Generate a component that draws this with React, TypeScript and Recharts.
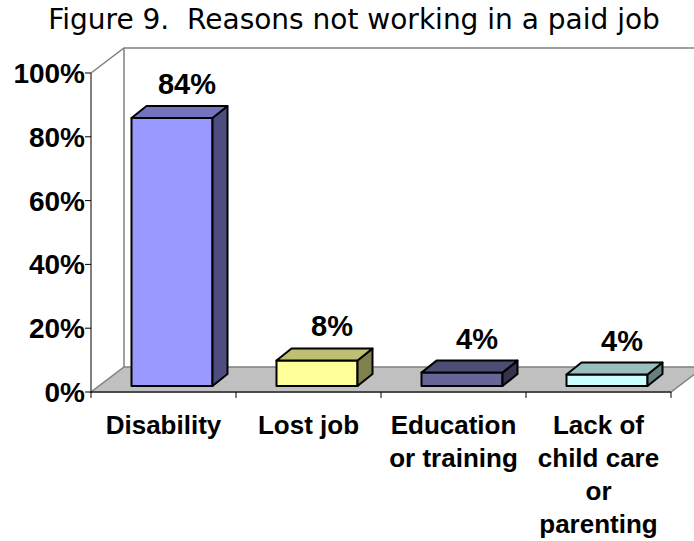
import React from 'react';
import { BarChart, Bar, XAxis, YAxis, ReferenceArea, LabelList } from 'recharts';

// ---- data ----
const CATEGORY_LINES: string[][] = [
  ['Disability'],
  ['Lost job'],
  ['Education', 'or training'],
  ['Lack of', 'child care', 'or', 'parenting'],
];
const CATEGORIES = CATEGORY_LINES.map((l) => l.join(' '));
const VALUES = [84, 8, 4.2, 3.6];
const Y_TICKS = [0, 20, 40, 60, 80, 100];
const FRONT_COLORS = ['#9999FF', '#FFFF99', '#666699', '#CCFFFF'];
const TITLE = 'Figure 9.\u00A0 Reasons not working in a paid job';

const data = CATEGORIES.map((name, i) => ({ name, value: VALUES[i] }));

// ---- layout ----
const W = 694;
const H = 541;
const MARGIN = { top: 73, right: 23, bottom: 0, left: 0 };
const Y_AXIS_W = 91;
const X_AXIS_H = 149;
const PLOT_W = W - MARGIN.left - MARGIN.right - Y_AXIS_W;
const BAND = PLOT_W / CATEGORIES.length;

const WALL_DX = 33;
const WALL_DY = 25;
const BAR_SHIFT_X = 8.5;
const BAR_SHIFT_Y = 6;
const BAR_DX = 15;
const BAR_DY = 12;

const BOLD_FONT = '"Liberation Sans", Arial, sans-serif';

function shade(hex: string, f: number) {
  const n = parseInt(hex.slice(1), 16);
  const r = Math.round(((n >> 16) & 255) * f);
  const g = Math.round(((n >> 8) & 255) * f);
  const b = Math.round((n & 255) * f);
  return `rgb(${r},${g},${b})`;
}

const Walls = (props: any) => {
  const { x, y, width, height } = props;
  const bottom = y + height;
  const right = x + width;
  return (
    <g>
      <polygon
        points={`${x},${bottom} ${right},${bottom} ${right + WALL_DX},${bottom - WALL_DY} ${x + WALL_DX},${bottom - WALL_DY}`}
        fill="#C0C0C0"
        stroke="#808080"
        strokeWidth={1.5}
      />
      <polyline
        points={`${x},${y} ${x + WALL_DX},${y - WALL_DY} ${right + WALL_DX},${y - WALL_DY}`}
        fill="none"
        stroke="#808080"
        strokeWidth={1.5}
      />
      <line
        x1={x + WALL_DX}
        y1={y - WALL_DY}
        x2={x + WALL_DX}
        y2={bottom - WALL_DY}
        stroke="#808080"
        strokeWidth={1.5}
      />
    </g>
  );
};

const Box3D = (props: any) => {
  const { x, y, width, height } = props;
  let i = props.index;
  if (typeof i !== 'number') i = CATEGORIES.indexOf(props.payload?.name);
  const front = FRONT_COLORS[i] || '#999';
  const fx = x + BAR_SHIFT_X;
  const fy = y - BAR_SHIFT_Y;
  const w = width;
  const h = height;
  return (
    <g stroke="#000" strokeWidth={2} strokeLinejoin="round">
      <rect x={fx} y={fy} width={w} height={h} fill={front} />
      <polygon
        points={`${fx + w},${fy} ${fx + w + BAR_DX},${fy - BAR_DY} ${fx + w + BAR_DX},${fy + h - BAR_DY} ${fx + w},${fy + h}`}
        fill={shade(front, 0.5)}
      />
      <polygon
        points={`${fx},${fy} ${fx + BAR_DX},${fy - BAR_DY} ${fx + w + BAR_DX},${fy - BAR_DY} ${fx + w},${fy}`}
        fill={shade(front, 0.75)}
      />
    </g>
  );
};

const BarLabel = (props: any) => {
  const { x, y, width, value } = props;
  const cx = Number(x) + Number(width) / 2 + BAR_SHIFT_X + BAR_DX;
  const by = Number(y) - BAR_SHIFT_Y - BAR_DY - 12;
  return (
    <text x={cx} y={by} textAnchor="middle" fontFamily={BOLD_FONT} fontWeight={700} fontSize={29} fill="#000">
      {`${Math.round(Number(value))}%`}
    </text>
  );
};

const CategoryTick = (props: any) => {
  const { x, y, payload } = props;
  const idx = typeof payload?.index === 'number' ? payload.index : CATEGORIES.indexOf(payload?.value);
  const lines = CATEGORY_LINES[idx] || [String(payload?.value)];
  const axisY = y - 8;
  const last = idx === CATEGORIES.length - 1;
  return (
    <g>
      <line x1={x - BAND / 2} y1={axisY} x2={x - BAND / 2} y2={axisY + 6} stroke="#000" strokeWidth={1} />
      {last && <line x1={x + BAND / 2} y1={axisY} x2={x + BAND / 2} y2={axisY + 6} stroke="#000" strokeWidth={1} />}
      <text textAnchor="middle" fontFamily={BOLD_FONT} fontWeight={700} fontSize={26} fill="#000">
        {lines.map((l, i) => (
          <tspan key={i} x={x} y={y + 34 + i * 33}>
            {l}
          </tspan>
        ))}
      </text>
    </g>
  );
};

export default function App() {
  return (
    <div style={{ position: 'absolute', left: 0, top: 0, width: W, height: H, background: '#fff' }}>
      <BarChart width={W} height={H} data={data} margin={MARGIN}>
        <ReferenceArea y1={0} y2={100} shape={Walls} ifOverflow="visible" />
        <XAxis
          dataKey="name"
          height={X_AXIS_H}
          tickLine={false}
          tickSize={6}
          tickMargin={2}
          axisLine={{ stroke: '#000', strokeWidth: 1 }}
          tick={(p: any) => <CategoryTick {...p} />}
          interval={0}
        />
        <YAxis
          type="number"
          domain={[0, 100]}
          ticks={Y_TICKS}
          interval={0}
          width={Y_AXIS_W}
          tickSize={6}
          tickMargin={0}
          tickFormatter={(v: number) => `${v}%`}
          axisLine={{ stroke: '#000', strokeWidth: 1 }}
          tickLine={{ stroke: '#000', strokeWidth: 1 }}
          tick={{ fill: '#000', fontSize: 28, fontWeight: 700, fontFamily: BOLD_FONT }}
        />
        <Bar dataKey="value" barSize={81} shape={Box3D} isAnimationActive={false}>
          <LabelList dataKey="value" content={BarLabel} />
        </Bar>
      </BarChart>
      <svg width={W} height={40} style={{ position: 'absolute', left: 0, top: 0, pointerEvents: 'none' }}>
        <text x={354} y={28.5} textAnchor="middle" fontFamily='"DejaVu Sans", Verdana, sans-serif' fontSize={28} fill="#000">
          {TITLE}
        </text>
      </svg>
    </div>
  );
}
